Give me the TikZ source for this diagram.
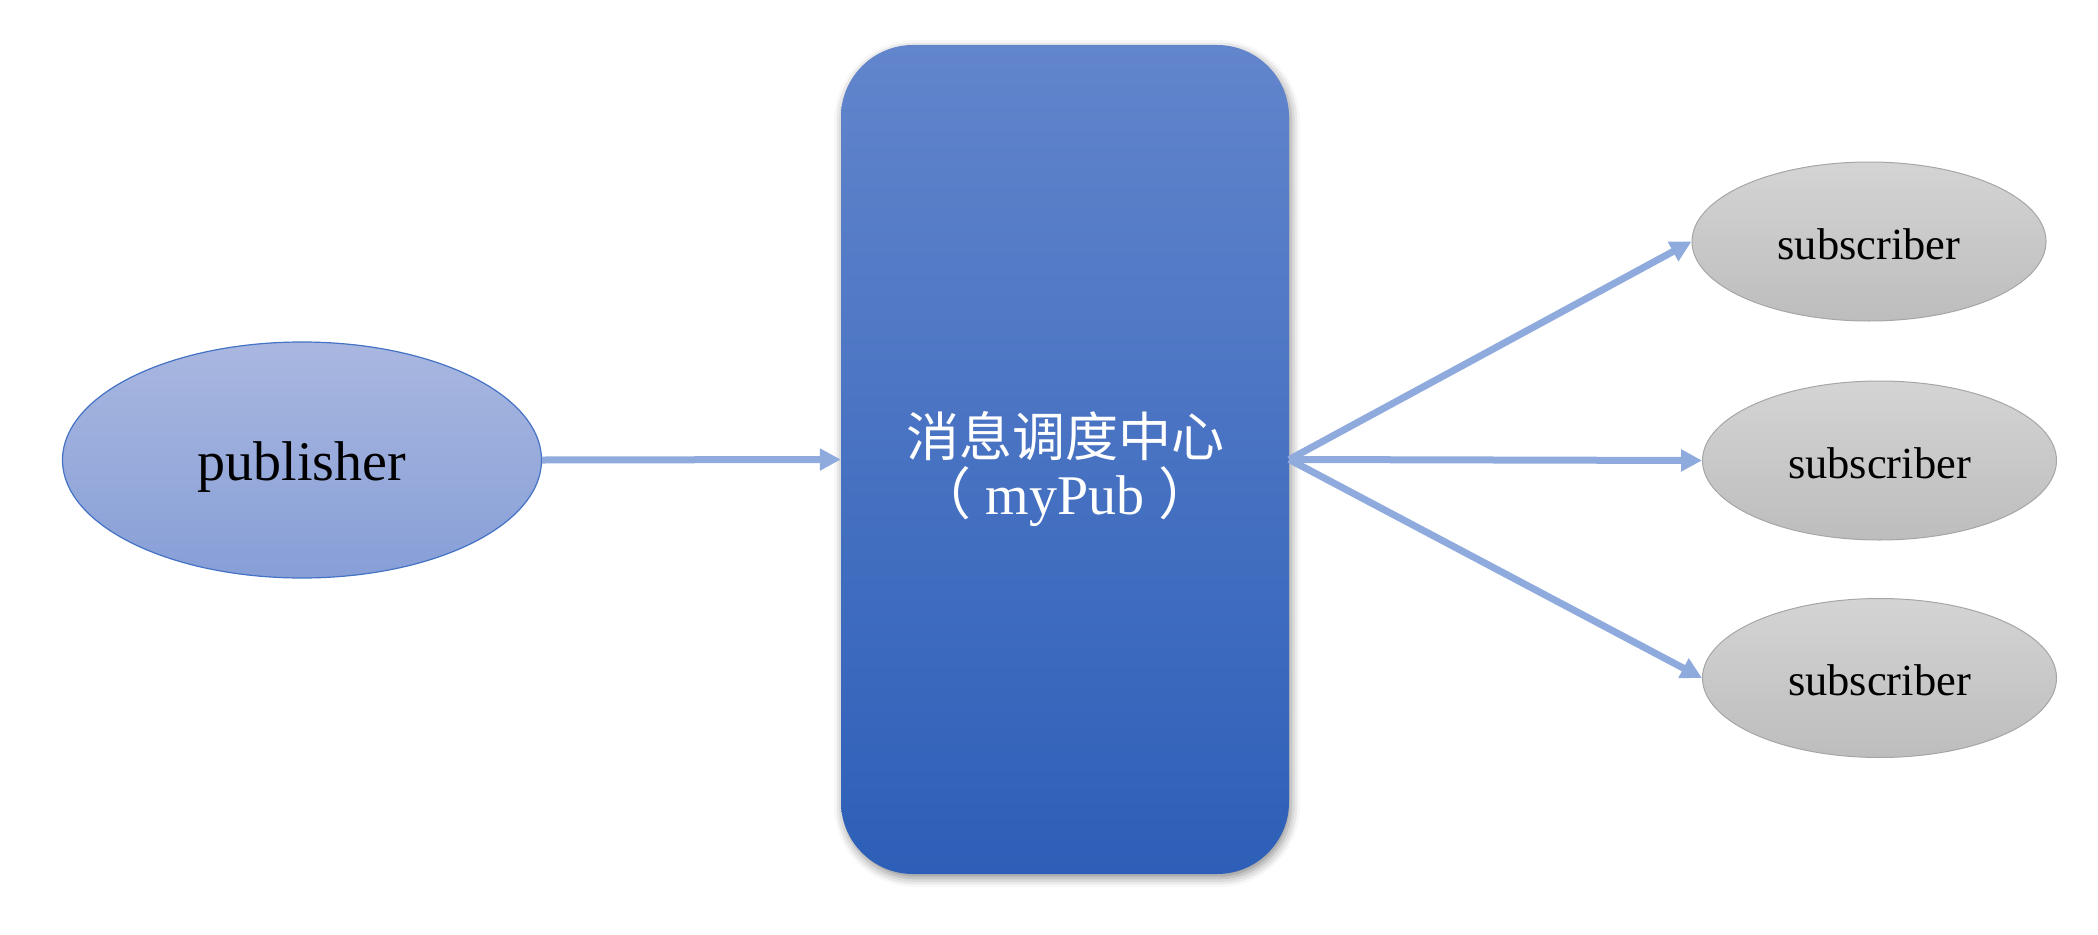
\documentclass[tikz,border=0pt]{standalone}
\usepackage{fontspec}
\setmainfont{Liberation Serif}
\newfontfamily\cjk{Noto Sans CJK SC}
\usetikzlibrary{shapes.geometric,arrows.meta,shadows.blur}
\definecolor{arrowblue}{HTML}{8FAADC}
\definecolor{pubtop}{HTML}{A9B7E0}
\definecolor{pubbot}{HTML}{879FD7}
\definecolor{pubedge}{HTML}{4472C4}
\definecolor{subtop}{HTML}{D4D4D4}
\definecolor{subbot}{HTML}{BDBDBD}
\definecolor{subedge}{HTML}{A6A6A6}
\definecolor{hubtop}{HTML}{6285CC}
\definecolor{hubbot}{HTML}{2D5FB8}
\begin{document}
\begin{tikzpicture}[x=1pt,y=-1pt,
  pubnode/.style={ellipse, draw=pubedge, line width=1.2pt, top color=pubtop, bottom color=pubbot,
    minimum width=479pt, minimum height=236pt, inner sep=0pt, text height=45pt, text depth=5pt,
    font=\fontsize{56}{60}\selectfont},
  subnode/.style={ellipse, draw=subedge, line width=1pt, top color=subtop, bottom color=subbot,
    minimum width=354pt, minimum height=159pt, inner sep=0pt, text height=35pt, text depth=0pt,
    font=\fontsize{44.5}{50}\selectfont},
  hubnode/.style={rectangle, rounded corners=72pt, top color=hubtop, bottom color=hubbot,
    minimum width=448pt, minimum height=829pt, inner sep=0pt,
    blur shadow={shadow xshift=2pt, shadow yshift=-4pt, shadow blur radius=9pt, shadow opacity=45}},
  hublabel/.style={text=white, align=center, inner sep=0pt},
  flow/.style={draw=arrowblue, line width=7pt, -{Triangle[length=21pt,width=21pt]}}
]
\useasboundingbox (0,0) rectangle (2098,934);
\node[pubnode] (pub) at (302,460) {publisher};
\node[hubnode] (hub) at (1065,459.5) {};
\node[hublabel] (hubtext) at (1065,469) {{\cjk\fontsize{53}{57}\selectfont 消息调度中心}\\[5pt]
  {\fontsize{56}{57}\selectfont{\cjk （} myPub {\cjk ）}}};
\node[subnode] (s1) at (1869,241.5) {subscriber};
\node[subnode] (s2) at (1879.5,460.5) {subscriber};
\node[subnode] (s3) at (1879.5,678) {subscriber};
\draw[flow] (pub.east) -- (hub.west);
\draw[flow] (hub.east) -- (s1.west);
\draw[flow] (hub.east) -- (s2.west);
\draw[flow] (hub.east) -- (s3.west);
\end{tikzpicture}
\end{document}
